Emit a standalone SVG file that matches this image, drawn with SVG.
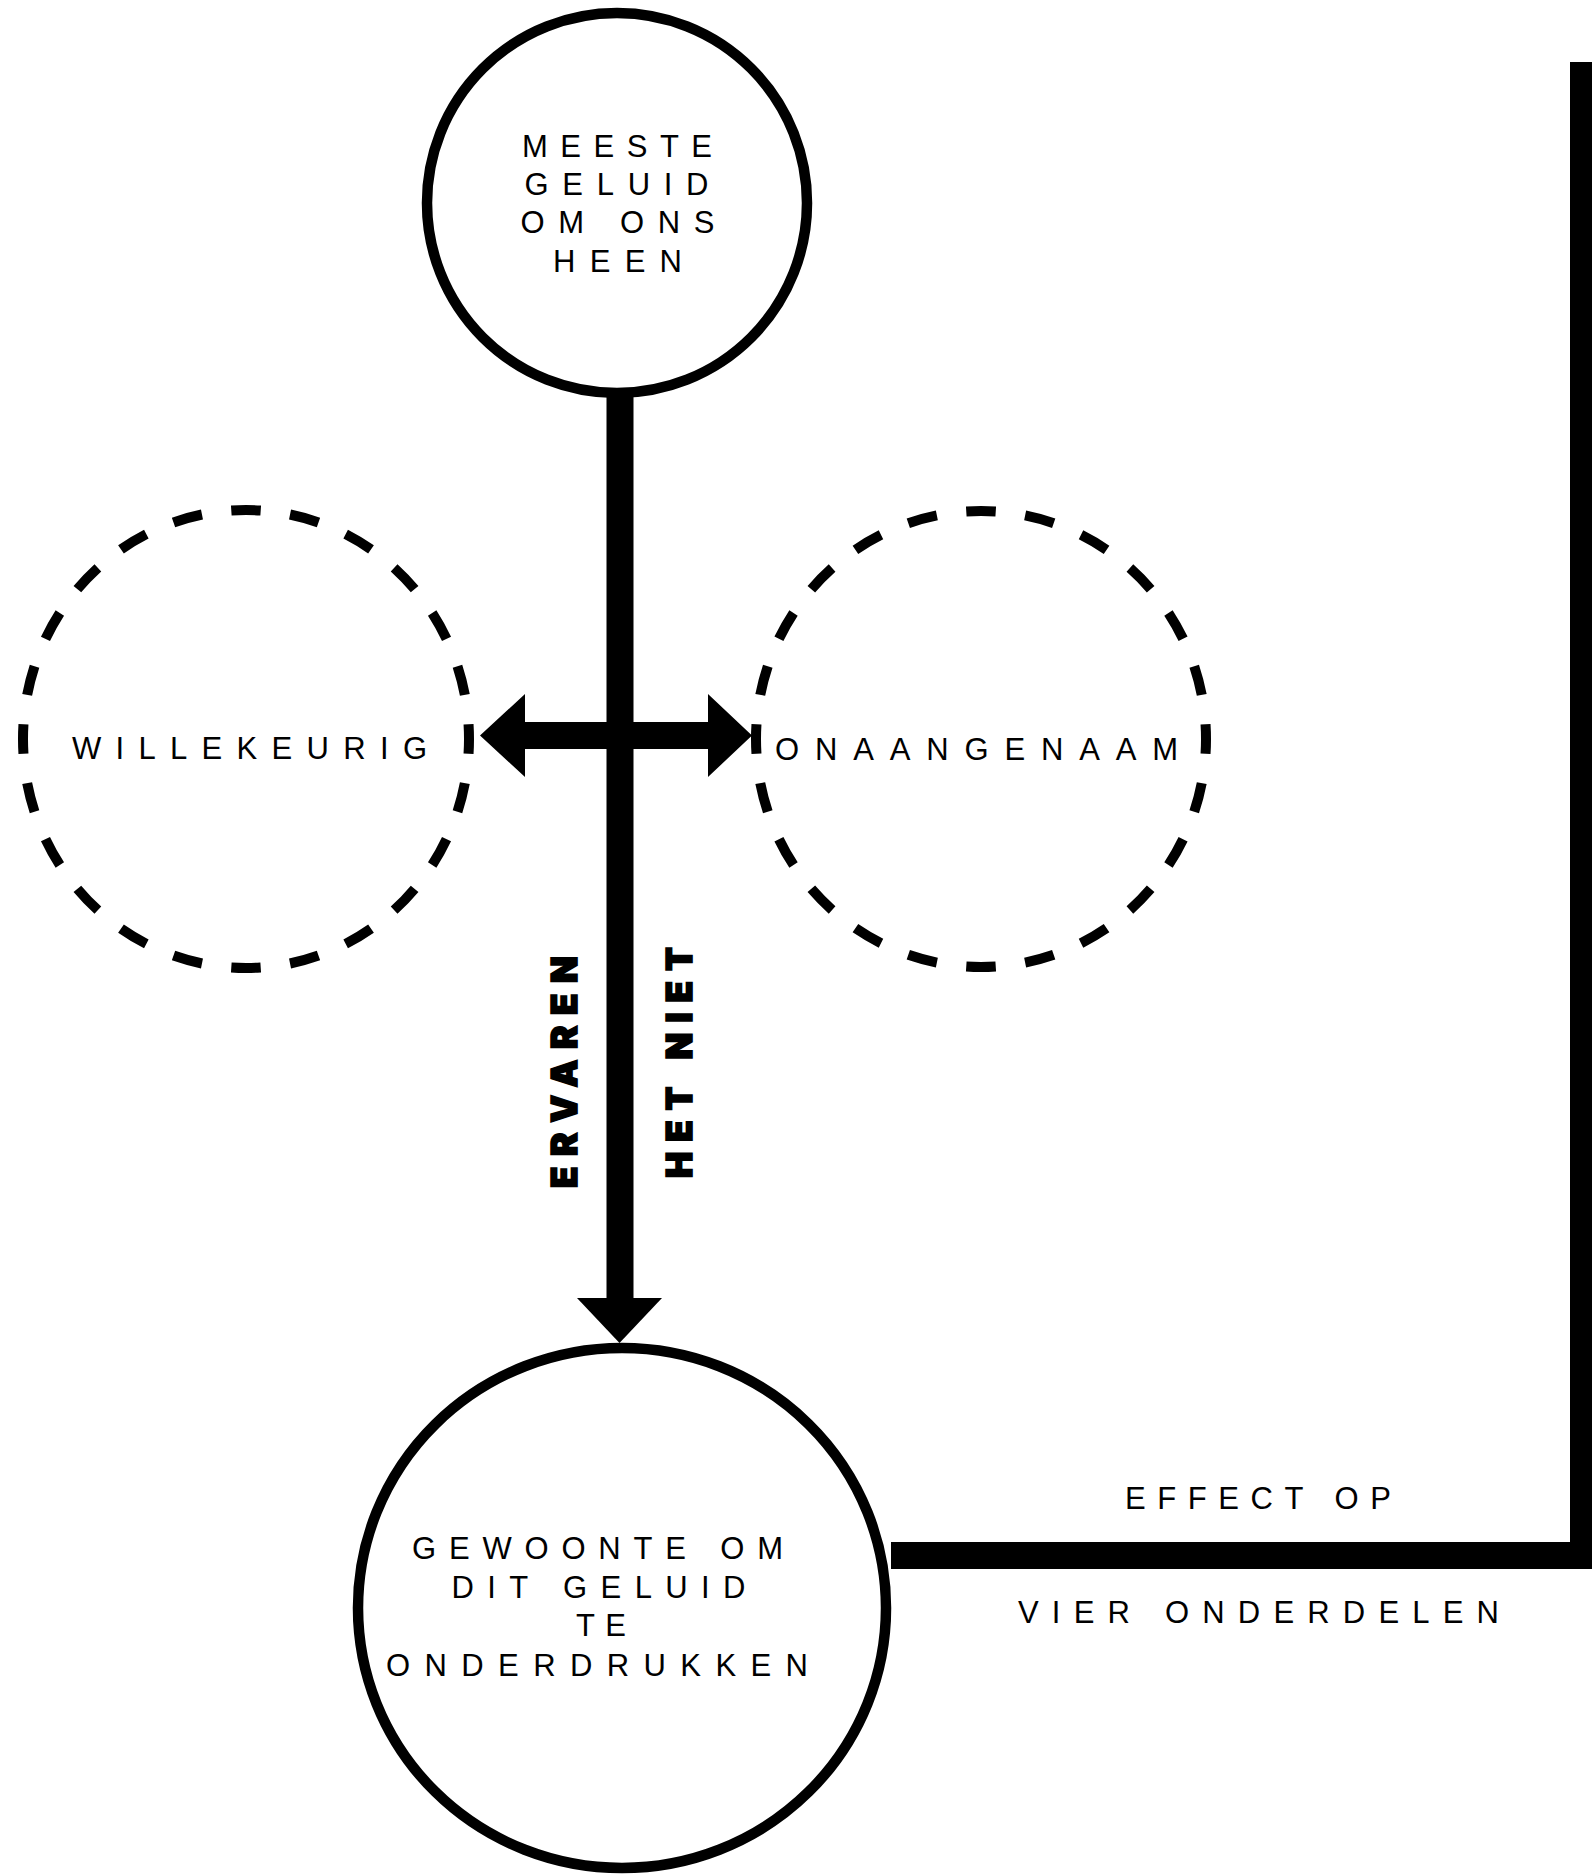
<svg xmlns="http://www.w3.org/2000/svg" width="1592" height="1874" viewBox="0 0 1592 1874">
<style>
.bg{fill:#ffffff}
.solid{fill:#ffffff;stroke:#000000;stroke-width:10.5}
.dash{fill:#ffffff;stroke:#000000;stroke-width:10;stroke-dasharray:0.5 0.5;stroke-dashoffset:0.25}
.lbl{font-family:"Liberation Sans",Arial,sans-serif;font-size:31px;fill:#000000}
.bold{font-family:"Inter","Roboto","Liberation Sans",Arial,sans-serif;font-weight:900;font-size:35px;fill:#000000;stroke:#000000;stroke-width:1.6;stroke-linejoin:miter}
.conn{fill:none;stroke:#000000;stroke-width:27;stroke-linejoin:miter}
.solidfill{fill:#000000}
</style>
<rect class="bg" x="0" y="0" width="1592" height="1874"/>
<g id="connectors">
  <rect class="solidfill" x="606.5" y="396" width="27" height="903"/>
  <polygon class="solidfill" points="577,1298 662,1298 619.5,1343"/>
  <polygon class="solidfill" points="480,735.5 525,694 525,722 708,722 708,694 752,735.5 708,777 708,749 525,749 525,777"/>
  <path class="conn" d="M 891 1555.5 H 1583.5 V 62"/>
  <text class="bold" lengthAdjust="spacing" textLength="232" transform="translate(577,1188) rotate(-90)">ERVAREN</text>
  <text class="bold" lengthAdjust="spacing" textLength="231" transform="translate(692,1178) rotate(-90)">HET NIET</text>
  <text class="lbl" x="1125" y="1509" textLength="266" lengthAdjust="spacing">EFFECT OP</text>
  <text class="lbl" x="1018" y="1623" textLength="481" lengthAdjust="spacing">VIER ONDERDELEN</text>
</g>
<g id="node-meeste-geluid">
  <circle class="solid" cx="617" cy="203" r="190"/>
  <text class="lbl" x="522" y="157" textLength="190" lengthAdjust="spacing">MEESTE</text>
  <text class="lbl" x="524.5" y="195" textLength="184" lengthAdjust="spacing">GELUID</text>
  <text class="lbl" x="520.5" y="233.3" textLength="194" lengthAdjust="spacing">OM ONS</text>
  <text class="lbl" x="553" y="271.7" textLength="129" lengthAdjust="spacing">HEEN</text>
</g>
<g id="node-willekeurig">
  <ellipse class="dash" cx="246" cy="739" rx="223" ry="229" pathLength="24"/>
  <text class="lbl" x="72" y="759" textLength="355" lengthAdjust="spacing">WILLEKEURIG</text>
</g>
<g id="node-onaangenaam">
  <ellipse class="dash" cx="981" cy="739" rx="225" ry="228" pathLength="24"/>
  <text class="lbl" x="775" y="760" textLength="403" lengthAdjust="spacing">ONAANGENAAM</text>
</g>
<g id="node-gewoonte">
  <ellipse class="solid" cx="622" cy="1608" rx="264" ry="260"/>
  <text class="lbl" x="412" y="1559" textLength="371" lengthAdjust="spacing">GEWOONTE OM</text>
  <text class="lbl" x="451.5" y="1598" textLength="294" lengthAdjust="spacing">DIT GELUID</text>
  <text class="lbl" x="576" y="1636.3" textLength="50" lengthAdjust="spacing">TE</text>
  <text class="lbl" x="386" y="1675.5" textLength="422" lengthAdjust="spacing">ONDERDRUKKEN</text>
</g>
</svg>
